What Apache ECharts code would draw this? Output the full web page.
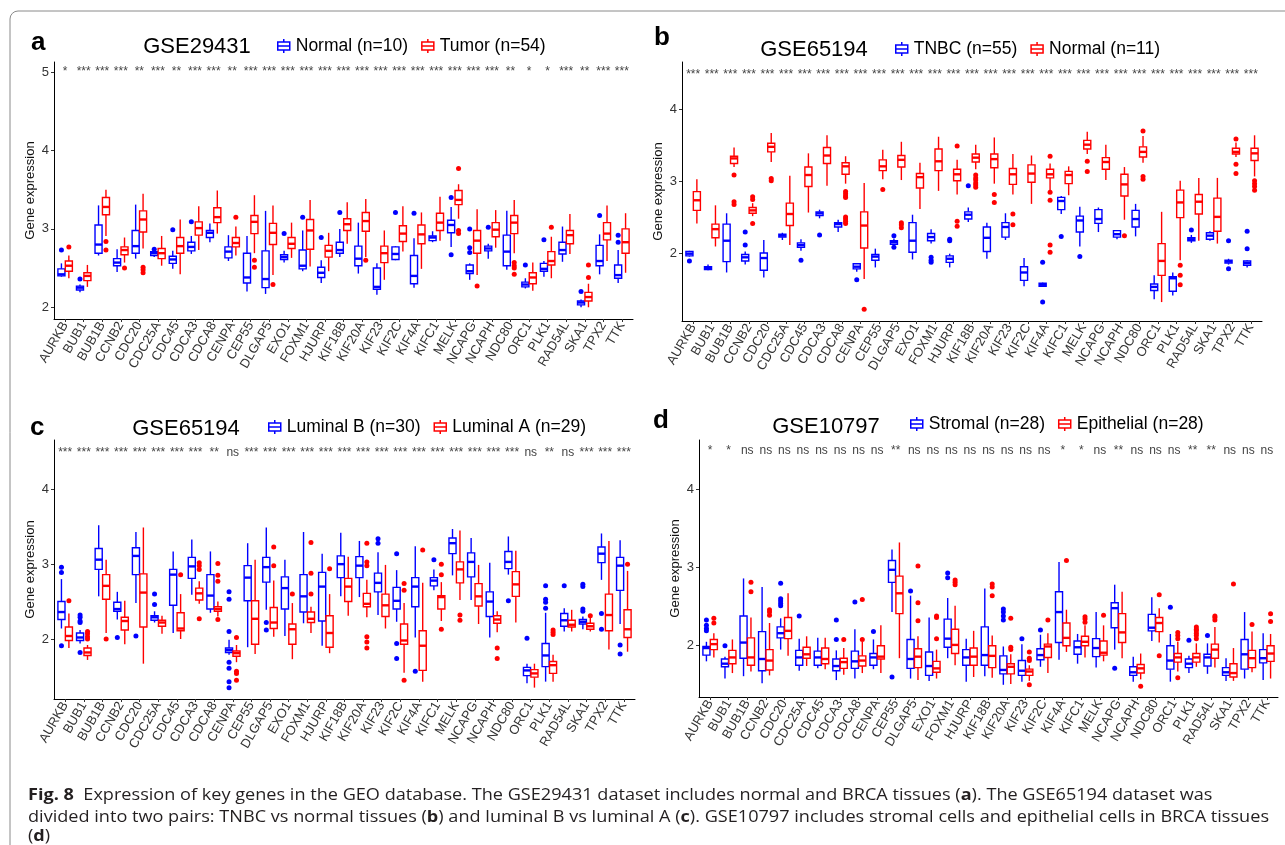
<!DOCTYPE html>
<html><head><meta charset="utf-8">
<script src="https://cdn.jsdelivr.net/npm/echarts@6/dist/echarts.min.js"></script>
<style>html,body{margin:0;padding:0;background:#fff}#c{width:1285px;height:845px}</style>
</head><body><div id="c"></div>
<script>
const genes = ['AURKB','BUB1','BUB1B','CCNB2','CDC20','CDC25A','CDC45','CDCA3','CDCA8','CENPA','CEP55','DLGAP5','EXO1','FOXM1','HJURP','KIF18B','KIF20A','KIF23','KIF2C','KIF4A','KIFC1','MELK','NCAPG','NCAPH','NDC80','ORC1','PLK1','RAD54L','SKA1','TPX2','TTK'];

// each box: [lower whisker, Q1, median, Q3, upper whisker]
// ---- panel a: GSE29431 ----
const aNormal = [[2.39,2.40,2.42,2.49,2.56],[2.19,2.22,2.25,2.27,2.29],[2.66,2.69,2.80,3.05,3.30],[2.45,2.53,2.57,2.62,2.74],[2.62,2.69,2.78,2.98,3.31],[2.64,2.66,2.69,2.71,2.72],[2.49,2.56,2.61,2.65,2.72],[2.68,2.72,2.77,2.83,2.91],[2.83,2.89,2.95,2.98,3.07],[2.59,2.63,2.71,2.77,2.92],[2.20,2.31,2.38,2.69,2.91],[2.17,2.25,2.36,2.72,3.23],[2.57,2.61,2.64,2.67,2.72],[2.46,2.49,2.53,2.73,2.98],[2.31,2.38,2.44,2.51,2.60],[2.64,2.69,2.73,2.83,3.00],[2.43,2.53,2.62,2.78,3.08],[2.16,2.23,2.26,2.50,2.56],[2.60,2.61,2.68,2.77,2.78],[2.25,2.30,2.40,2.66,2.88],[2.83,2.85,2.89,2.91,2.97],[2.77,2.95,3.05,3.11,3.28],[2.35,2.43,2.46,2.54,2.56],[2.62,2.72,2.75,2.78,2.81],[2.48,2.53,2.71,2.92,3.23],[2.24,2.26,2.29,2.32,2.37],[2.39,2.46,2.49,2.56,2.59],[2.58,2.68,2.73,2.83,3.03],[2.00,2.03,2.06,2.08,2.10],[2.42,2.53,2.59,2.79,2.93],[2.31,2.37,2.41,2.54,2.73]];
const aNormalOut = [[2.73],[2.36],[],[],[],[2.74],[2.99],[3.09],[],[],[],[],[2.94],[3.15],[2.89],[3.21],[],[],[3.21],[3.20],[],[3.40,2.67],[3.00,2.76,2.70],[3.02],[],[2.54],[2.86],[],[2.20],[3.17],[2.92,2.83]];
const aTumor = [[2.37,2.46,2.53,2.59,2.66],[2.26,2.34,2.40,2.44,2.54],[2.91,3.18,3.28,3.40,3.50],[2.57,2.67,2.73,2.77,2.89],[2.75,2.96,3.12,3.23,3.45],[2.53,2.62,2.69,2.75,2.91],[2.42,2.69,2.78,2.89,3.12],[2.73,2.92,3.01,3.09,3.29],[2.94,3.08,3.15,3.27,3.49],[2.66,2.77,2.82,2.89,3.03],[2.69,2.94,3.09,3.17,3.43],[2.41,2.80,2.95,3.07,3.30],[2.63,2.75,2.81,2.89,3.08],[2.52,2.74,2.98,3.12,3.37],[2.46,2.64,2.72,2.79,2.95],[2.81,2.98,3.06,3.13,3.34],[2.64,2.97,3.10,3.21,3.38],[2.35,2.57,2.69,2.78,2.98],[2.71,2.84,2.94,3.04,3.29],[2.49,2.81,2.93,3.05,3.21],[2.85,2.98,3.08,3.20,3.41],[3.13,3.31,3.37,3.49,3.57],[2.41,2.69,2.85,2.98,3.25],[2.76,2.90,2.99,3.08,3.24],[2.69,2.94,3.08,3.17,3.37],[2.21,2.30,2.38,2.44,2.57],[2.37,2.54,2.59,2.71,2.90],[2.68,2.81,2.92,2.98,3.19],[2.00,2.08,2.13,2.19,2.30],[2.59,2.86,2.94,3.08,3.30],[2.44,2.69,2.83,3.00,3.20]];
const aTumorOut = [[2.77],[],[2.84,2.73],[2.50],[2.51,2.48,2.44],[],[],[],[],[3.15],[2.60,2.51],[2.29],[],[],[],[],[2.60],[],[],[],[],[3.77,2.98,2.94],[2.27],[],[2.57,2.53,2.50,2.42],[],[3.02],[],[2.54,2.38],[],[]];
const aSig = ['*','***','***','***','**','***','**','***','***','**','***','***','***','***','***','***','***','***','***','***','***','***','***','***','**','*','*','***','**','***','***'];

// ---- panel b: GSE65194 TNBC vs Normal ----
const bTNBC = [[1.96,1.97,2.00,2.03,2.04],[1.77,1.78,1.80,1.82,1.85],[1.74,1.89,2.18,2.41,2.56],[1.85,1.90,1.95,1.99,2.03],[1.67,1.77,1.94,2.01,2.19],[2.19,2.23,2.25,2.27,2.29],[2.04,2.09,2.12,2.15,2.20],[2.49,2.53,2.56,2.58,2.61],[2.30,2.37,2.41,2.43,2.47],[1.75,1.79,1.82,1.86,1.87],[1.81,1.91,1.96,1.99,2.07],[2.11,2.13,2.16,2.18,2.21],[1.92,2.02,2.18,2.43,2.54],[2.14,2.18,2.23,2.28,2.34],[1.81,1.88,1.93,1.97,2.00],[2.44,2.48,2.54,2.58,2.64],[1.93,2.03,2.22,2.37,2.43],[2.19,2.23,2.37,2.43,2.56],[1.55,1.63,1.74,1.82,1.94],[1.54,1.55,1.57,1.59,1.60],[2.55,2.61,2.73,2.78,2.80],[2.10,2.30,2.46,2.52,2.65],[2.30,2.42,2.48,2.61,2.64],[2.20,2.23,2.27,2.32,2.33],[2.24,2.37,2.48,2.60,2.69],[1.37,1.49,1.54,1.58,1.70],[1.42,1.48,1.66,1.68,1.74],[2.15,2.18,2.20,2.22,2.26],[2.18,2.20,2.25,2.29,2.31],[1.85,1.87,1.89,1.91,1.93],[1.81,1.84,1.87,1.90,1.91]];
const bTNBCOut = [[1.90],[],[],[2.30,2.12],[],[],[1.91],[2.26],[],[1.64],[],[2.25,2.09],[],[1.95,1.91,1.88],[2.20,2.18],[2.94],[],[],[],[1.88,1.33],[2.24],[1.96],[],[],[],[],[],[2.33],[],[2.18,1.79],[2.31,2.07]];
const bNormal = [[2.42,2.60,2.74,2.86,3.03],[2.10,2.22,2.34,2.41,2.67],[3.20,3.25,3.32,3.35,3.47],[2.52,2.56,2.60,2.64,2.70],[3.27,3.41,3.48,3.53,3.67],[2.12,2.39,2.55,2.70,3.08],[2.57,2.93,3.09,3.20,3.39],[2.94,3.25,3.36,3.47,3.64],[2.97,3.10,3.21,3.26,3.35],[1.65,2.08,2.39,2.58,2.98],[3.03,3.15,3.21,3.30,3.44],[3.02,3.20,3.30,3.36,3.55],[2.62,2.91,3.06,3.11,3.26],[2.87,3.15,3.28,3.45,3.62],[2.82,3.01,3.10,3.17,3.30],[3.17,3.27,3.33,3.38,3.51],[2.97,3.19,3.31,3.38,3.61],[2.82,2.96,3.10,3.18,3.38],[2.69,2.99,3.11,3.23,3.36],[2.88,3.05,3.10,3.17,3.25],[2.81,2.97,3.09,3.14,3.21],[3.38,3.45,3.51,3.57,3.69],[3.02,3.17,3.27,3.33,3.51],[2.47,2.80,2.96,3.10,3.20],[3.26,3.34,3.41,3.48,3.63],[1.33,1.70,1.90,2.14,2.58],[1.91,2.50,2.71,2.88,3.01],[2.18,2.55,2.72,2.82,3.05],[2.14,2.31,2.51,2.77,3.05],[3.34,3.38,3.41,3.46,3.54],[3.07,3.29,3.39,3.46,3.64]];
const bNormalOut = [[],[],[3.09,2.72,2.68],[2.79,2.75,2.42],[3.04,3.01],[],[],[],[2.86,2.83,2.80,2.78,2.51,2.48,2.45,2.42],[1.23],[2.89],[2.43,2.40,2.36],[],[],[3.49,2.45,2.38],[3.09,3.05,3.02,2.98,2.95,2.92],[2.82,2.71],[2.55,2.40],[],[3.35,2.85,2.74,2.12,2.02],[],[3.28,3.14],[],[2.25],[3.70,3.07,3.03],[],[1.84,1.70,1.57],[],[],[3.59,3.24,3.11],[3.01,2.97,2.93,2.88]];
const bSig = genes.map(() => '***');

// ---- panel c: GSE65194 Luminal B vs Luminal A ----
const cLumB = [[2.14,2.26,2.36,2.50,2.80],[1.94,1.98,2.02,2.08,2.12],[2.57,2.93,3.06,3.21,3.52],[2.26,2.37,2.40,2.49,2.63],[2.48,2.86,3.11,3.22,3.43],[2.22,2.25,2.29,2.31,2.37],[2.08,2.45,2.86,2.93,3.17],[2.59,2.81,2.97,3.09,3.33],[2.35,2.40,2.58,2.86,3.17],[1.79,1.82,1.85,1.88,1.99],[1.89,2.51,2.82,2.98,3.28],[2.39,2.76,2.96,3.09,3.49],[2.04,2.40,2.68,2.83,3.06],[2.21,2.36,2.57,2.86,3.43],[1.91,2.24,2.70,2.89,3.14],[2.57,2.82,3.00,3.11,3.42],[2.56,2.82,2.98,3.10,3.31],[2.32,2.63,2.75,2.88,3.16],[2.23,2.40,2.51,2.69,2.92],[2.02,2.43,2.70,2.82,3.24],[2.65,2.71,2.78,2.82,2.93],[2.85,3.14,3.28,3.35,3.47],[2.52,2.83,3.03,3.15,3.35],[2.02,2.30,2.50,2.63,3.02],[2.86,2.94,3.03,3.17,3.37],[1.41,1.51,1.58,1.62,1.67],[1.43,1.63,1.78,1.94,2.35],[2.10,2.17,2.25,2.34,2.41],[2.13,2.20,2.23,2.26,2.30],[2.79,3.02,3.14,3.23,3.41],[2.20,2.65,2.98,3.09,3.32]];
const cLumBOut = [[2.96,2.89,1.91],[2.32,2.29,2.24,2.22,1.82],[],[2.02],[2.04],[2.60,2.46],[],[],[],[2.63,2.53,2.10,1.69,1.61,1.43,1.35],[],[2.22,2.12],[],[],[],[],[],[3.34,3.28],[3.14,1.94,1.74],[1.57],[3.06],[],[],[],[2.51],[2.01],[2.71,2.53,2.49,2.41],[2.71],[2.73,2.70,2.40,2.37],[2.34,2.13],[1.92,1.80]];
const cLumA = [[1.88,1.98,2.04,2.16,2.34],[1.72,1.78,1.82,1.88,1.92],[2.08,2.53,2.71,2.86,3.06],[1.93,2.12,2.24,2.29,2.51],[1.67,2.16,2.62,2.87,3.49],[2.07,2.17,2.22,2.25,2.31],[2.00,2.11,2.14,2.35,2.60],[2.47,2.52,2.61,2.68,2.77],[2.30,2.37,2.40,2.43,2.50],[1.69,1.77,1.81,1.84,1.92],[1.80,1.93,2.27,2.51,3.06],[2.03,2.14,2.22,2.42,2.78],[1.73,1.93,2.13,2.20,2.48],[2.08,2.22,2.27,2.36,2.43],[1.81,1.89,2.08,2.31,2.60],[2.31,2.50,2.70,2.81,3.10],[2.29,2.43,2.47,2.61,2.79],[2.14,2.30,2.45,2.60,2.99],[1.55,1.93,1.98,2.20,2.48],[1.43,1.58,1.91,2.11,2.75],[2.24,2.40,2.56,2.58,2.76],[2.52,2.75,2.93,3.03,3.45],[2.20,2.44,2.57,2.74,2.99],[2.09,2.21,2.26,2.31,2.37],[2.22,2.57,2.73,2.90,3.18],[1.35,1.49,1.54,1.59,1.67],[1.43,1.54,1.65,1.70,1.79],[2.10,2.16,2.19,2.25,2.39],[2.10,2.13,2.17,2.21,2.28],[1.86,2.11,2.32,2.60,3.31],[1.83,2.02,2.13,2.39,2.91]];
const cLumAOut = [[2.51],[2.10,2.07,2.03,2.00],[2.00],[],[],[],[2.86],[3.02,2.98,2.93,2.27],[3.01,2.85,2.77,2.26],[2.02,1.57,1.54,1.45],[],[3.23,2.98],[2.60],[3.29,2.88,2.60],[2.94],[],[3.28,3.03,2.98,2.03,1.96,1.88],[],[2.74,2.65,1.45],[3.19],[3.00,2.86,2.13],[2.32,2.25],[],[1.88,1.74],[],[],[2.12,2.09,2.06],[],[2.31],[],[3.00]];
const cSig = ['***','***','***','***','***','***','***','***','**','ns','***','***','***','***','***','***','***','***','***','***','***','***','***','***','***','ns','**','ns','***','***','***'];

// ---- panel d: GSE10797 Stromal vs Epithelial ----
const dStromal = [[1.80,1.88,1.97,1.99,2.05],[1.58,1.73,1.77,1.83,1.86],[1.61,1.84,2.04,2.38,2.86],[1.52,1.68,1.83,2.18,2.75],[1.95,2.10,2.16,2.24,2.35],[1.68,1.75,1.85,1.94,2.09],[1.71,1.75,1.85,1.93,2.10],[1.56,1.68,1.74,1.83,1.94],[1.58,1.71,1.80,1.93,2.21],[1.70,1.75,1.85,1.90,2.08],[2.43,2.81,2.97,3.09,3.23],[1.58,1.71,1.83,2.08,2.64],[1.55,1.62,1.74,1.92,2.36],[1.84,1.98,2.09,2.34,2.61],[1.54,1.75,1.85,1.95,2.09],[1.61,1.75,1.88,2.24,2.73],[1.50,1.64,1.69,1.87,1.99],[1.54,1.62,1.68,1.81,2.02],[1.73,1.82,1.88,1.96,2.14],[1.82,2.04,2.43,2.69,3.07],[1.77,1.89,1.98,2.06,2.15],[1.72,1.86,1.97,2.09,2.43],[1.95,2.23,2.48,2.55,2.78],[1.54,1.62,1.66,1.73,1.86],[2.06,2.19,2.23,2.40,2.62],[1.54,1.70,1.81,2.00,2.15],[1.65,1.72,1.77,1.83,1.87],[1.64,1.74,1.85,1.89,2.03],[1.55,1.62,1.66,1.72,1.84],[1.58,1.70,1.89,2.08,2.43],[1.56,1.78,1.84,1.95,2.16]];
const dStromalOut = [[2.33,2.26,2.22,2.19],[2.00],[],[],[2.80,2.60,2.57,2.54,2.51],[2.38],[],[2.33,2.08],[2.56],[2.18],[1.60],[2.70],[],[2.93,2.87],[],[],[2.47,2.43,2.38,2.33],[2.09],[2.20],[],[],[],[1.71],[],[],[2.49],[2.07],[2.13],[],[],[]];
const dEpithelial = [[1.85,1.95,2.02,2.08,2.16],[1.65,1.77,1.85,1.94,2.08],[1.67,1.75,1.85,2.10,2.36],[1.62,1.69,1.81,1.95,2.29],[1.87,2.09,2.19,2.36,2.67],[1.74,1.84,1.89,1.98,2.12],[1.70,1.77,1.83,1.97,2.10],[1.63,1.71,1.79,1.84,1.97],[1.65,1.74,1.81,1.87,2.05],[1.65,1.83,1.86,2.00,2.26],[1.84,2.41,2.67,2.89,3.32],[1.56,1.72,1.86,1.96,2.12],[1.58,1.66,1.71,1.80,1.95],[1.75,1.90,2.01,2.21,2.51],[1.60,1.75,1.86,1.97,2.19],[1.59,1.72,1.87,2.00,2.13],[1.51,1.64,1.73,1.77,1.89],[1.55,1.62,1.67,1.70,1.75],[1.65,1.85,1.99,2.02,2.16],[1.92,2.00,2.10,2.29,2.46],[1.85,2.00,2.05,2.12,2.26],[1.80,1.88,1.91,2.06,2.26],[1.84,2.04,2.17,2.41,2.69],[1.57,1.65,1.71,1.76,1.90],[2.04,2.18,2.29,2.36,2.48],[1.67,1.79,1.85,1.90,2.05],[1.73,1.79,1.85,1.90,2.03],[1.72,1.84,1.95,2.02,2.24],[1.55,1.60,1.65,1.77,1.97],[1.66,1.72,1.84,1.94,2.18],[1.58,1.80,1.90,2.00,2.15]];
const dEpithelialOut = [[2.35,2.29],[],[2.81,2.69],[2.46,2.43,2.39],[],[],[],[2.08],[2.59,2.08],[],[],[3.02,2.55,2.32],[2.38,2.36,2.09],[2.84,2.81,2.78],[],[2.79,2.75,2.64],[2.35,1.98,1.95],[1.92,1.84,1.81,1.50],[2.33],[3.09],[2.37,2.34,2.30],[2.39],[],[1.48],[2.65,1.87],[2.17,2.13,2.09,1.59],[2.24,2.21,2.19,2.16,2.13,2.09],[2.38,2.36,2.33],[2.79],[2.27],[2.41,2.31]];
const dSig = ['*','*','ns','ns','ns','ns','ns','ns','ns','ns','**','ns','ns','ns','ns','ns','ns','ns','ns','*','*','ns','**','ns','ns','ns','**','**','ns','ns','ns'];

const yTicksA = [2,3,4,5];
const yTicksBCD = [2,3,4];

// ---------------- styling / layout ----------------
const BLUE = '#0000ff', RED = '#ff0000';
const FONT = '"Liberation Sans", Arial, sans-serif';

const panels = [
  {letter:'a', title:'GSE29431', sig:aSig, sigY:4.925, yMin:1.85, yMax:5.13, ticks:yTicksA,
   groups:[{name:'Normal (n=10)', stats:aNormal, out:aNormalOut, color:BLUE},{name:'Tumor (n=54)', stats:aTumor, out:aTumorOut, color:RED}],
   grid:{left:54, top:62, width:579, height:257}, letterXY:[31,43], titleXY:[197,47], legend:{left:272, top:32}},
  {letter:'b', title:'GSE65194', sig:bSig, sigY:4.40, yMin:1.068, yMax:4.655, ticks:yTicksBCD,
   groups:[{name:'TNBC (n=55)', stats:bTNBC, out:bTNBCOut, color:BLUE},{name:'Normal (n=11)', stats:bNormal, out:bNormalOut, color:RED}],
   grid:{left:682, top:62, width:580, height:259}, letterXY:[654,38], titleXY:[814,50], legend:{left:890, top:35}},
  {letter:'c', title:'GSE65194', sig:cSig, sigY:4.41, yMin:1.198, yMax:4.659, ticks:yTicksBCD,
   groups:[{name:'Luminal B (n=30)', stats:cLumB, out:cLumBOut, color:BLUE},{name:'Luminal A (n=29)', stats:cLumA, out:cLumAOut, color:RED}],
   grid:{left:54, top:440, width:581, height:259}, letterXY:[30,428], titleXY:[186,429], legend:{left:263, top:413}},
  {letter:'d', title:'GSE10797', sig:dSig, sigY:4.42, yMin:1.344, yMax:4.63, ticks:yTicksBCD,
   groups:[{name:'Stromal (n=28)', stats:dStromal, out:dStromalOut, color:BLUE},{name:'Epithelial (n=28)', stats:dEpithelial, out:dEpithelialOut, color:RED}],
   grid:{left:699, top:440, width:579, height:257}, letterXY:[653,421], titleXY:[826,427], legend:{left:905, top:410}}
];

const OFFSETS = [-0.2, 0.2];
const BOXW = 0.38;
const ICON = 'path://M7,0L7,3M1,3L13,3L13,11L1,11ZM1,7L13,7M7,11L7,14';
const catIdx = genes.map((g, i) => i);

function boxRender(offset) {
  return function (params, api) {
    const x = api.value(0) + offset;
    const band = api.size([1, 0])[0];
    const w = band * BOXW;
    const yMin = api.coord([x, api.value(1)])[1];
    const yQ1 = api.coord([x, api.value(2)])[1];
    const pMed = api.coord([x, api.value(3)]);
    const yQ3 = api.coord([x, api.value(4)])[1];
    const yMax = api.coord([x, api.value(5)])[1];
    const cx = pMed[0];
    const c = api.visual('color');
    const ls = {stroke: c, lineWidth: 1.4};
    return {type: 'group', children: [
      {type: 'line', shape: {x1: cx, y1: yMax, x2: cx, y2: yQ3}, style: ls},
      {type: 'line', shape: {x1: cx, y1: yQ1, x2: cx, y2: yMin}, style: ls},
      {type: 'rect', shape: {x: cx - w / 2, y: yQ3, width: w, height: yQ1 - yQ3}, style: {stroke: c, lineWidth: 1.4, fill: '#fff'}},
      {type: 'line', shape: {x1: cx - w / 2, y1: pMed[1], x2: cx + w / 2, y2: pMed[1]}, style: {stroke: c, lineWidth: 2.4}}
    ]};
  };
}
function outRender(offset) {
  return function (params, api) {
    const p = api.coord([api.value(0) + offset, api.value(1)]);
    return {type: 'circle', shape: {cx: p[0], cy: p[1], r: 2.5}, style: {fill: api.visual('color')}};
  };
}
function sigRender(labels) {
  return function (params, api) {
    const p = api.coord([api.value(0), api.value(1)]);
    return {type: 'text', x: p[0], y: p[1], style: {text: labels[params.dataIndex], fill: '#444',
      fontSize: 12, fontFamily: FONT, align: 'center', verticalAlign: 'bottom', textAlign: 'center', textVerticalAlign: 'bottom'}};
  };
}

const grid = [], xAxis = [], yAxis = [], series = [], legend = [], graphic = [];
panels.forEach((p, k) => {
  grid.push(Object.assign({containLabel: false, outerBoundsMode: 'none'}, p.grid));
  xAxis.push({type: 'value', gridIndex: k, min: -0.6, max: 30.6,
    axisLine: {show: true, onZero: false, lineStyle: {color: '#000', width: 1}},
    axisTick: {show: true, customValues: catIdx, length: 3, lineStyle: {color: '#333'}},
    axisLabel: {customValues: catIdx, formatter: v => genes[v], rotate: 60, fontSize: 13, color: '#333', fontFamily: FONT, margin: 4},
    splitLine: {show: false}});
  yAxis.push({type: 'value', gridIndex: k, min: p.yMin, max: p.yMax,
    name: 'Gene expression', nameLocation: 'middle', nameGap: 17,
    nameTextStyle: {fontSize: 13, color: '#111', fontFamily: FONT},
    axisLine: {show: true, onZero: false, lineStyle: {color: '#000', width: 1}},
    axisTick: {show: true, customValues: p.ticks, length: 3, lineStyle: {color: '#333'}},
    axisLabel: {customValues: p.ticks, fontSize: 13, color: '#333', fontFamily: FONT, margin: 5},
    splitLine: {show: false}});
  p.groups.forEach((g, j) => {
    series.push({type: 'custom', name: g.name, xAxisIndex: k, yAxisIndex: k, clip: false,
      itemStyle: {color: g.color}, renderItem: boxRender(OFFSETS[j]),
      encode: {x: 0, y: [1, 2, 3, 4, 5]},
      data: g.stats.map((s, i) => [i].concat(s))});
    const od = [];
    g.out.forEach((arr, i) => arr.forEach(v => od.push([i, v])));
    series.push({type: 'custom', name: g.name + ' outliers', xAxisIndex: k, yAxisIndex: k, clip: false,
      itemStyle: {color: g.color}, renderItem: outRender(OFFSETS[j]), encode: {x: 0, y: 1}, data: od});
  });
  series.push({type: 'custom', name: p.title + ' sig ' + p.letter, xAxisIndex: k, yAxisIndex: k, clip: false,
    renderItem: sigRender(p.sig), encode: {x: 0, y: 1}, data: p.sig.map((s, i) => [i, p.sigY])});
  legend.push({left: p.legend.left, top: p.legend.top, orient: 'horizontal', itemWidth: 14, itemHeight: 14, itemGap: 13,
    selectedMode: false, textStyle: {fontSize: 17.5, color: '#000', fontFamily: FONT},
    data: p.groups.map(g => ({name: g.name, icon: ICON, itemStyle: {color: '#fff', borderColor: g.color, borderWidth: 1.5}}))});
  graphic.push({type: 'text', x: p.letterXY[0], y: p.letterXY[1], style: {text: p.letter, fontSize: 26, fontWeight: 'bold',
    fontFamily: FONT, fill: '#000', align: 'left', verticalAlign: 'middle', textAlign: 'left', textVerticalAlign: 'middle'}});
  graphic.push({type: 'text', x: p.titleXY[0], y: p.titleXY[1], style: {text: p.title, fontSize: 22,
    fontFamily: FONT, fill: '#000', align: 'center', verticalAlign: 'middle', textAlign: 'center', textVerticalAlign: 'middle'}});
});

// caption
const CAP_FONT = '"Open Sans", "Liberation Sans", sans-serif';
const CAP_SIZE = 16.5;
const capLines = [
  '{b|Fig. 8}  Expression of key genes in the GEO database. The GSE29431 dataset includes normal and BRCA tissues ({b|a}). The GSE65194 dataset was',
  'divided into two pairs: TNBC vs normal tissues ({b|b}) and luminal B vs luminal A ({b|c}). GSE10797 includes stromal cells and epithelial cells in BRCA tissues',
  '({b|d})'
];
const ctx = document.createElement('canvas').getContext('2d');
ctx.font = CAP_SIZE + 'px ' + CAP_FONT;
const plain2 = capLines[1].replace(/\{b\|([^}]*)\}/g, '$1');
const capScale = (1268 - 28) / ctx.measureText(plain2).width;
const capY = [795, 817, 836];
capLines.forEach((t, i) => {
  graphic.push({type: 'text', x: 28, y: capY[i], scaleX: capScale, style: {text: t, fontSize: CAP_SIZE, fontFamily: CAP_FONT,
    fill: '#231f20', align: 'left', verticalAlign: 'middle', textAlign: 'left', textVerticalAlign: 'middle',
    rich: {b: {fontSize: CAP_SIZE, fontFamily: CAP_FONT, fontWeight: 'bold', fill: '#231f20'}}}});
});
graphic.push({type: 'rect', shape: {x: 10, y: 11, width: 1320, height: 845, r: 8},
  style: {fill: 'none', stroke: '#8a8a8a', lineWidth: 1}, z: -1});

const chart = echarts.init(document.getElementById('c'), null, {renderer: 'canvas'});
chart.setOption({animation: false, backgroundColor: '#fff', grid, xAxis, yAxis, series, legend, graphic});
</script>
</body></html>
